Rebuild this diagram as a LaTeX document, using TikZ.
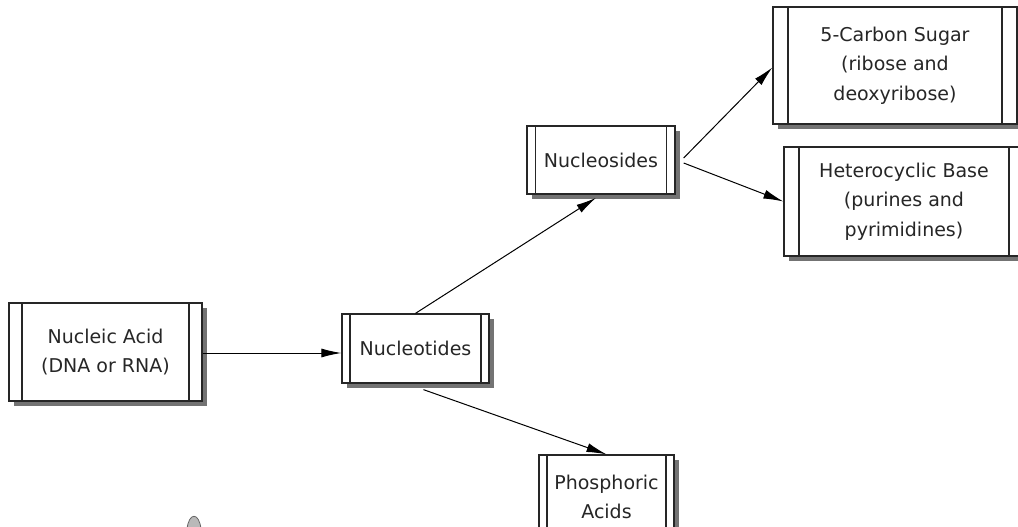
\documentclass[tikz,border=0pt]{standalone}
\usepackage{fontspec}
\newfontfamily\boxfont{DejaVu Sans}
\usetikzlibrary{shadows,arrows.meta}
\begin{document}
\begin{tikzpicture}[x=1pt,y=-1pt,
  side/.store in=\sidew, side=9pt,
  procbox/.style={draw=black!85, line width=1.3pt, fill=white, inner sep=0pt,
    align=center, font=\boxfont\fontsize{19}{29.5}\selectfont, text=black!85,
    drop shadow={shadow xshift=5pt, shadow yshift=-5pt, fill=black!55, opacity=1},
    path picture={
      \draw[line width=1.1pt, black!85]
        ([xshift=\sidew]path picture bounding box.north west) --
        ([xshift=\sidew]path picture bounding box.south west)
        ([xshift=-\sidew]path picture bounding box.north east) --
        ([xshift=-\sidew]path picture bounding box.south east);
    }},
  link/.style={line width=1pt, black, -{Latex[length=20pt,width=9pt]}}
]
\useasboundingbox (0,0) rectangle (1018,527);
\fill[white] (0,0) rectangle (1018,527);

% process boxes
\node[procbox, side=13pt, minimum width=193pt, minimum height=98pt]
  (nuc) at (105.5,352) {Nucleic Acid\\(DNA or RNA)};
\node[procbox, side=8pt, minimum width=147pt, minimum height=69pt]
  (ntd) at (415.5,348.5) {Nucleotides};
\node[procbox, side=8.5pt, minimum width=148pt, minimum height=68pt]
  (nsd) at (601,160) {Nucleosides};
\node[procbox, side=15pt, minimum width=244pt, minimum height=117pt]
  (sugar) at (895,65.5) {5-Carbon Sugar\\(ribose and\\deoxyribose)};
\node[procbox, side=15pt, minimum width=240pt, minimum height=109pt]
  (het) at (904,201.5) {Heterocyclic Base\\(purines and\\pyrimidines)};
\node[procbox, side=8pt, minimum width=135pt, minimum height=84pt]
  (phos) at (606.5,497) {Phosphoric\\Acids};

% connectors
\draw[link] (nuc.east |- 0,353) -- (ntd.west |- 0,353);
\draw[link, shorten >=6pt] (ntd.north) -- (nsd.south);
\draw[link] ([shift={(8,6)}]ntd.south) -- (phos.north);
\draw[link] ([shift={(8,-2)}]nsd.east) -- ([yshift=-2pt]sugar.west);
\draw[link] ([shift={(8,3)}]nsd.east) -- (het.west);

% pointer tip at the lower edge
\filldraw[gray!55, draw=gray!80!black, line width=0.8pt]
  (187,529) .. controls (189,512) and (199,512) .. (201,529) -- cycle;
\end{tikzpicture}
\end{document}
